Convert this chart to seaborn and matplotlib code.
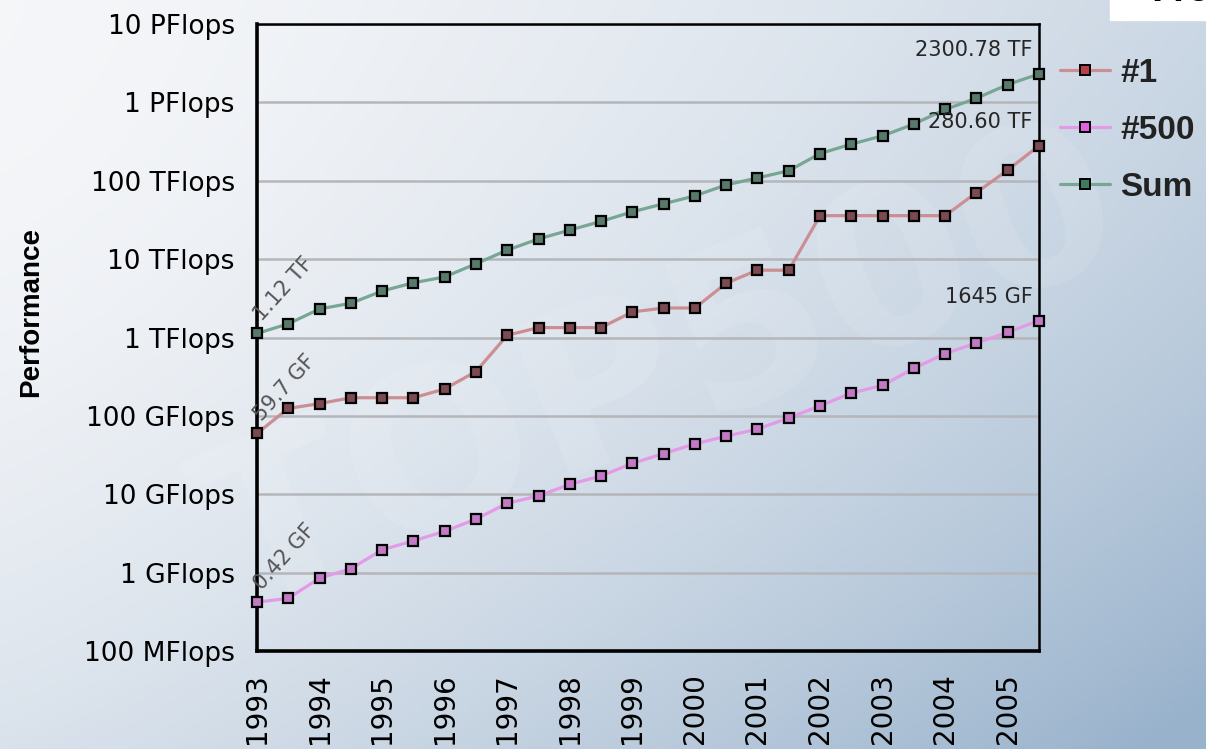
import numpy as np
import pandas as pd
import matplotlib
matplotlib.use("Agg")
import matplotlib.pyplot as plt
import seaborn as sns
from matplotlib.lines import Line2D

# TOP500 performance development, values in GFlops (June / November lists)
dates = [1993.0, 1993.5, 1994.0, 1994.5, 1995.0, 1995.5, 1996.0, 1996.5, 1997.0,
         1997.5, 1998.0, 1998.5, 1999.0, 1999.5, 2000.0, 2000.5, 2001.0, 2001.5,
         2002.0, 2002.5, 2003.0, 2003.5, 2004.0, 2004.5, 2005.0, 2005.5]
rank1 = [59.7, 124.5, 143.4, 170.4, 170.4, 170.4, 220.4, 368.2, 1068, 1338, 1338,
         1338, 2121, 2379, 2379, 4938, 7226, 7226, 35860, 35860, 35860, 35860,
         35860, 70720, 136800, 280600]
rank500 = [0.42, 0.47, 0.85, 1.12, 1.96, 2.54, 3.36, 4.83, 7.67, 9.51, 13.39, 17.12,
           24.73, 33.08, 43.82, 55.07, 67.78, 94.3, 134.3, 195.8, 245.1, 403.4,
           624, 850.6, 1166, 1645.7]
total = [1128, 1493, 2315, 2731, 3922, 4989, 5927, 8727, 13030, 18100, 23500,
         30300, 40200, 50800, 64200, 88600, 108600, 134300, 222200, 293400,
         374400, 528400, 813100, 1127000, 1690000, 2300780]

year_ticks = list(range(1993, 2006))
perf_ticks = [0.1, 1, 10, 100, 1e3, 1e4, 1e5, 1e6, 1e7]
perf_labels = ["100 MFlops", "1 GFlops", "10 GFlops", "100 GFlops", "1 TFlops",
               "10 TFlops", "100 TFlops", "1 PFlops", "10 PFlops"]

styles = {
    "#1":   dict(line="#cc8e92", fill="#7c4a52", legend_fill="#b8404e"),
    "#500": dict(line="#e49ae6", fill="#c27ac4", legend_fill="#e060e0"),
    "Sum":  dict(line="#78a694", fill="#587a6c", legend_fill="#3f7a5e"),
}
series = {"#1": rank1, "#500": rank500, "Sum": total}

sns.set_style("white")
plt.rcParams["font.family"] = ["DejaVu Sans"]

fig = plt.figure(figsize=(12.06, 7.49), dpi=100)

# background gradient with faint logo
bg = fig.add_axes([0, 0, 1, 1], zorder=-10)
xx, yy = np.meshgrid(np.linspace(0, 1, 300), np.linspace(0, 1, 200))
t = np.clip(0.45 * xx ** 1.5 + 0.3 * yy ** 2 + 0.3 * xx * yy, 0, 1)
c0 = np.array([0.96, 0.965, 0.975])
c1 = np.array([0.60, 0.70, 0.80])
img = c0[None, None, :] * (1 - t[..., None]) + c1[None, None, :] * t[..., None]
bg.imshow(img, aspect="auto", extent=[0, 1, 0, 1], origin="upper")
bg.axis("off")
bg.text(0.55, 0.5, "TOP500", fontsize=160, fontweight="bold", color="white",
        alpha=0.10, rotation=22, ha="center", va="center")
bg.add_patch(plt.Rectangle((0.92, 0.973), 0.08, 0.03, color="white"))
bg.text(0.955, 0.99, "Pro", fontsize=22, fontweight="bold", ha="left",
        va="bottom", color="black", clip_on=True)

ax = fig.add_axes([257 / 1206, 1 - 651 / 749, 782 / 1206, 627 / 749])
ax.set_facecolor("none")

for name, vals in series.items():
    st = styles[name]
    sns.lineplot(x=dates, y=vals, ax=ax, color=st["line"], linewidth=2.3,
                 marker="s", markersize=7, markerfacecolor=st["fill"],
                 markeredgecolor="black", markeredgewidth=1.6, clip_on=False,
                 zorder=3)

ax.set_yscale("log")
ax.set_ylim(0.1, 1e7)
ax.set_xlim(1993, 2005.5)
ax.set_yticks(perf_ticks)
ax.set_yticklabels(perf_labels)
ax.yaxis.set_minor_locator(matplotlib.ticker.NullLocator())
ax.set_xticks(year_ticks)
ax.set_xticklabels([str(y) for y in year_ticks], rotation=90)
ax.set_xticks(dates, minor=True)
ax.tick_params(axis="x", which="major", length=10, width=1.6, direction="out",
               labelsize=20, pad=6, labelcolor="black", color="black")
ax.tick_params(axis="x", which="minor", length=7, width=1.6, direction="out",
               color="black")
ax.tick_params(axis="y", which="major", length=10, width=1.6, direction="out",
               labelsize=19, pad=6, labelcolor="black", color="black")
ax.grid(axis="y", color="#b4b6ba", linewidth=1.8)
for side in ["left", "bottom"]:
    ax.spines[side].set_linewidth(2.6)
for side in ["top", "right"]:
    ax.spines[side].set_linewidth(1.8)
for sp in ax.spines.values():
    sp.set_color("black")
    sp.set_visible(True)
ax.set_ylabel("Performance", fontsize=20, fontweight="bold",
              family="Liberation Sans", color="black")
ax.yaxis.set_label_coords(-0.272, 0.54)

# value annotations
ax.text(2005.4, total[-1] * 1.5, "2300.78 TF", ha="right", va="bottom", fontsize=15)
ax.text(2005.4, rank1[-1] * 1.5, "280.60 TF", ha="right", va="bottom", fontsize=15)
ax.text(2005.4, rank500[-1] * 1.5, "1645 GF", ha="right", va="bottom", fontsize=15)
for val, lab in [(total[0], "1.12 TF"), (rank1[0], "59.7 GF"),
                 (rank500[0], "0.42 GF")]:
    ax.text(1993.12, val * 1.3, lab, rotation=48, ha="left", va="bottom",
            fontsize=15, color="#555555", rotation_mode="anchor")

handles = [Line2D([], [], color=styles[n]["line"], linewidth=2.3, marker="s",
                  markersize=7, markerfacecolor=styles[n]["legend_fill"],
                  markeredgecolor="black", markeredgewidth=1.4)
           for n in series]
fig.legend(handles, list(series), loc="upper left",
           bbox_to_anchor=(1060 / 1206, 1 - 58 / 749), frameon=False,
           prop=dict(size=24, weight="bold", family="Liberation Sans"),
           handlelength=1.5, handletextpad=0.3, labelspacing=0.78,
           borderpad=0, borderaxespad=0, labelcolor="#222222")

fig.savefig("out.png", dpi=100)
